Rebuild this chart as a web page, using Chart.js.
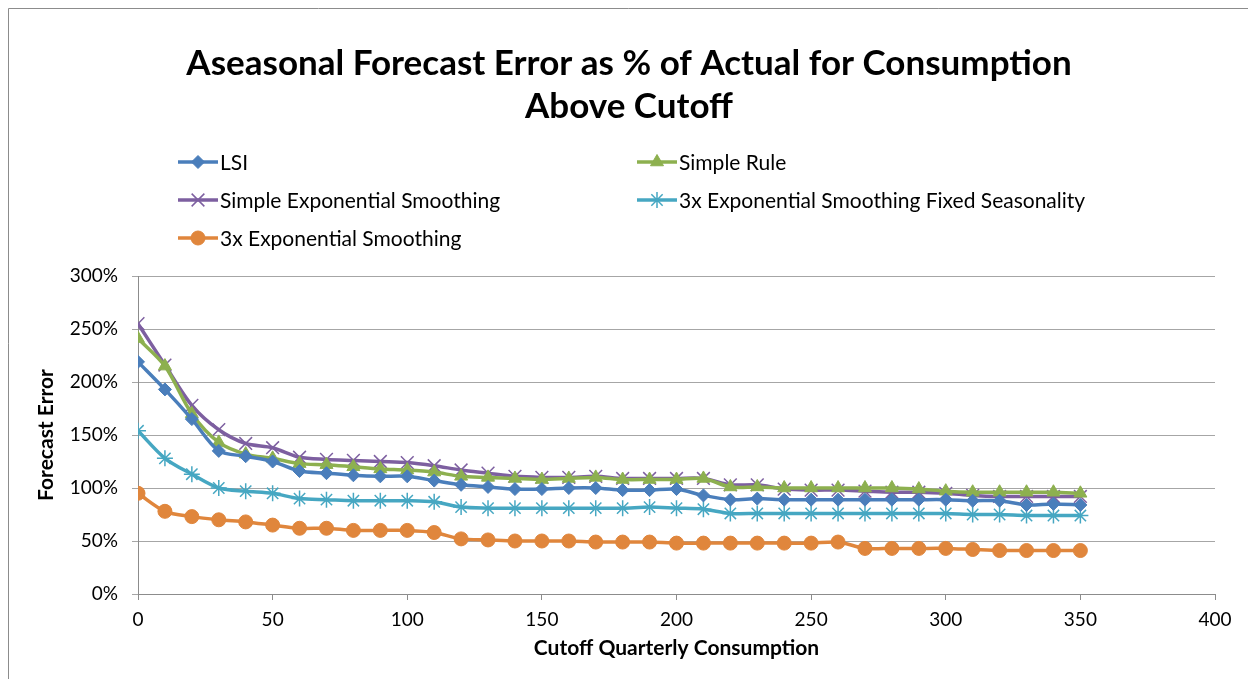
<!DOCTYPE html>
<html>
<head>
<meta charset="utf-8">
<script src="https://cdn.jsdelivr.net/npm/chart.js@4/dist/chart.umd.min.js"></script>
<style>
  html, body { margin: 0; padding: 0; background: #fff; }
  #wrap { width: 1248px; height: 679px; position: relative; }
</style>
</head>
<body>
<div id="wrap"><canvas id="chart" width="1248" height="679"></canvas></div>
<script>
const cutoffs = [0, 10, 20, 30, 40, 50, 60, 70, 80, 90, 100, 110, 120, 130, 140, 150, 160, 170,
                 180, 190, 200, 210, 220, 230, 240, 250, 260, 270, 280, 290, 300, 310, 320, 330, 340, 350];

const lsi = [219, 193, 165, 135, 130, 125, 116, 114, 112, 111, 111, 107, 103, 101, 99, 99, 100, 100,
             98, 98, 99, 93, 89, 90, 89, 89, 89, 89, 89, 89, 89, 88, 88, 84, 85, 84];
const simpleRule = [241, 215, 170, 143, 132, 128, 123, 122, 120, 118, 117, 115, 111, 110, 109, 108, 109, 110,
                    108, 108, 108, 109, 101, 101, 100, 100, 100, 100, 100, 99, 97, 96, 96, 96, 96, 95];
const simpleExp = [255, 216, 178, 155, 142, 138, 129, 127, 126, 125, 124, 121, 117, 114, 111, 110, 110, 111,
                   109, 109, 109, 109, 103, 103, 99, 98, 98, 97, 96, 96, 95, 93, 92, 92, 92, 92];
const tripleFixed = [154, 128, 113, 100, 97, 95, 90, 89, 88, 88, 88, 87, 82, 81, 81, 81, 81, 81,
                     81, 82, 81, 80, 76, 76, 76, 76, 76, 76, 76, 76, 76, 75, 75, 74, 74, 74];
const tripleExp = [95, 78, 73, 70, 68, 65, 62, 62, 60, 60, 60, 58, 52, 51, 50, 50, 50, 49,
                   49, 49, 48, 48, 48, 48, 48, 48, 49, 43, 43, 43, 43, 42, 41, 41, 41, 41];

const seriesNames = ['LSI', 'Simple Rule', 'Simple Exponential Smoothing',
                     '3x Exponential Smoothing Fixed Seasonality', '3x Exponential Smoothing'];
const titleLines = ['Aseasonal Forecast Error as % of Actual for Consumption', 'Above Cutoff'];
const yTicks = [0, 50, 100, 150, 200, 250, 300];
const xTicks = [0, 50, 100, 150, 200, 250, 300, 350, 400];

const FONT = 'Lato, "Open Sans", sans-serif';
const pts = arr => arr.map((v, i) => ({ x: cutoffs[i], y: v }));

function series(label, values, color, style, radius, borderW) {
    return {
        label: label,
        data: pts(values),
        borderColor: color,
        backgroundColor: color,
        pointBackgroundColor: color,
        pointBorderColor: color,
        pointStyle: style,
        pointRadius: radius,
        pointBorderWidth: borderW,
        pointHoverRadius: radius,
        borderWidth: 3.5,
        tension: 0.3
    };
}

const datasets = [
    series(seriesNames[0], lsi, '#4a7ebb', 'rectRot', 6.5, 1),
    series(seriesNames[1], simpleRule, '#8db04f', 'triangle', 7.5, 1),
    series(seriesNames[2], simpleExp, '#7d5fa0', 'crossRot', 9, 1.5),
    series(seriesNames[3], tripleFixed, '#46a7c2', 'star', 8, 1.5),
    series(seriesNames[4], tripleExp, '#e0863c', 'circle', 7, 1)
];

// frame, centred title and two-column legend like the Excel chart
const excelDecor = {
    id: 'excelDecor',
    beforeDraw(chart) {
        const ctx = chart.ctx;
        ctx.save();
        ctx.fillStyle = '#fff';
        ctx.fillRect(0, 0, chart.width, chart.height);
        ctx.strokeStyle = '#8c8c8c';
        ctx.lineWidth = 1;
        ctx.beginPath();
        ctx.moveTo(8.5, chart.height);
        ctx.lineTo(8.5, 8.5);
        ctx.lineTo(chart.width, 8.5);
        ctx.stroke();
        ctx.restore();
    },
    afterDraw(chart) {
        const ctx = chart.ctx;
        ctx.save();
        // title
        ctx.fillStyle = '#000';
        ctx.textAlign = 'center';
        ctx.textBaseline = 'middle';
        ctx.font = 'bold 35px ' + FONT;
        titleLines.forEach((t, i) => ctx.fillText(t, 629, 64 + i * 43));

        // legend
        const cols = [178, 637];
        const rows = [162, 200, 238];
        ctx.textAlign = 'left';
        ctx.font = '21px ' + FONT;
        chart.data.datasets.forEach((ds, i) => {
            const x = cols[i % 2];
            const y = rows[Math.floor(i / 2)];
            ctx.strokeStyle = ds.borderColor;
            ctx.lineWidth = 3.5;
            ctx.beginPath();
            ctx.moveTo(x, y);
            ctx.lineTo(x + 40, y);
            ctx.stroke();
            ctx.fillStyle = ds.pointBackgroundColor;
            ctx.strokeStyle = ds.pointBorderColor;
            ctx.lineWidth = ds.pointBorderWidth;
            Chart.helpers.drawPoint(ctx, { pointStyle: ds.pointStyle, radius: ds.pointRadius, rotation: 0, borderWidth: ds.pointBorderWidth }, x + 20, y);
            ctx.fillStyle = '#000';
            ctx.fillText(ds.label, x + 42, y + 1);
        });
        ctx.restore();
    }
};

new Chart(document.getElementById('chart'), {
    type: 'line',
    data: { datasets: datasets },
    plugins: [excelDecor],
    options: {
        responsive: false,
        animation: false,
        layout: { padding: { top: 276, left: 0, right: 33, bottom: 0 } },
        plugins: {
            legend: { display: false },
            tooltip: { enabled: false },
            title: { display: false }
        },
        scales: {
            x: {
                type: 'linear',
                min: 0,
                max: 400,
                afterBuildTicks: axis => { axis.ticks = xTicks.map(v => ({ value: v })); },
                afterFit: axis => { axis.height = 85; },
                ticks: { color: '#000', font: { family: FONT, size: 19 }, padding: 8, maxRotation: 0 },
                grid: { drawOnChartArea: false, drawTicks: true, tickLength: 6, color: '#8c8c8c' },
                border: { color: '#8c8c8c' },
                title: {
                    display: true,
                    text: 'Cutoff Quarterly Consumption',
                    color: '#000',
                    font: { family: FONT, size: 21, weight: 'bold' },
                    padding: { top: 0, bottom: 18 }
                }
            },
            y: {
                min: 0,
                max: 300,
                afterBuildTicks: axis => { axis.ticks = yTicks.map(v => ({ value: v })); },
                afterFit: axis => { axis.width = 138; },
                ticks: { color: '#000', font: { family: FONT, size: 19 }, padding: 14, callback: v => v + '%' },
                grid: { color: '#a6a6a6', tickLength: 6, lineWidth: 1 },
                border: { color: '#8c8c8c' },
                title: {
                    display: true,
                    text: 'Forecast Error',
                    color: '#000',
                    font: { family: FONT, size: 21, weight: 'bold' },
                    padding: { top: 34, bottom: 0 }
                }
            }
        }
    }
});
</script>
</body>
</html>
